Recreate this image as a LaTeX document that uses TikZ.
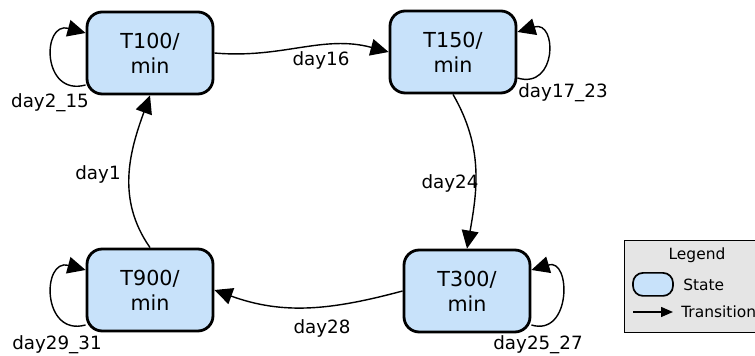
\documentclass[tikz,border=0pt]{standalone}
\usepackage{fontspec}
\setmainfont{DejaVu Sans}
\usetikzlibrary{arrows.meta}
\definecolor{statefill}{RGB}{200,226,250}
\definecolor{legendfill}{RGB}{229,229,229}
\begin{document}
\begin{tikzpicture}[
        state/.style={rectangle, rounded corners=0.38cm, minimum width=3.15cm, minimum height=2.05cm, align=center, font=\fontsize{14.7}{17.7}\selectfont, draw, line width=2pt, fill=statefill},
        lbl/.style={font=\fontsize{13}{15}\selectfont, inner sep=1pt},
        trans/.style={-{Triangle[length=0.45cm, width=0.42cm]}, line width=1pt},
        legtext/.style={font=\fontsize{11}{13}\selectfont, inner sep=0pt}
    ]
        \clip (0,0) rectangle (18.875,8.9);

        \node[state] (t100) at (3.75,7.575) {T100/\\min};
        \node[state] (t150) at (11.325,7.6) {T150/\\min};
        \node[state] (t300) at (11.675,1.625) {T300/\\min};
        \node[state] (t900) at (3.75,1.65) {T900/\\min};

        \node[lbl] (l16) at (8.025,7.4) {day16};
        \node[lbl] (l24) at (11.25,4.325) {day24};
        \node[lbl] (l28) at (8.05,0.7) {day28};
        \node[lbl] (l1) at (2.45,4.55) {day1};
        \node[lbl] (l215) at (1.25,6.325) {day2\_15};
        \node[lbl] (l1723) at (14.075,6.575) {day17\_23};
        \node[lbl] (l2931) at (1.425,0.275) {day29\_31};
        \node[lbl] (l2527) at (13.45,0.275) {day25\_27};

        \draw[trans] (t100.east) to[out=-5, in=165] (t150.west);
        \draw[trans] (t150.south) to[out=-60, in=80] (t300.north);
        \draw[trans] (t300.west) to[out=195, in=-20] (t900.east);
        \draw[trans] (t900.north) to[out=125, in=-110] (t100.south);

        % self loops
        \draw[trans] ([yshift=-0.8cm]t100.west) .. controls +(-1.1,-0.3) and +(-1.1,0.3) .. ([yshift=0.5cm]t100.west);
        \draw[trans] ([yshift=-0.65cm]t150.east) .. controls +(1.0,-0.3) and +(1.0,0.3) .. ([yshift=0.5cm]t150.east);
        \draw[trans] ([yshift=-0.875cm]t900.west) .. controls +(-1.1,-0.3) and +(-1.1,0.3) .. ([yshift=0.5cm]t900.west);
        \draw[trans] ([yshift=-0.85cm]t300.east) .. controls +(1.0,-0.3) and +(1.0,0.3) .. ([yshift=0.525cm]t300.east);

        % legend
        \node[draw, line width=1pt, fill=legendfill, minimum width=4cm, minimum height=2.3cm, anchor=north west] (legend) at (15.6,2.9) {};
        \node[legtext] (legtitle) at (17.425,2.525) {Legend};
        \node[draw, line width=1.2pt, fill=statefill, rounded corners=0.25cm, minimum width=1cm, minimum height=0.575cm] (legstate) at (16.325,1.79) {};
        \node[legtext, anchor=west] (legstatetxt) at (17.075,1.79) {State};
        \coordinate (legfrom) at (15.825,1.1);
        \coordinate (legto) at (16.825,1.1);
        \draw[-{Triangle[length=0.3cm, width=0.25cm]}, line width=1pt] (legfrom) -- (legto);
        \node[legtext, anchor=west] (legtranstxt) at (17.025,1.1) {Transition};
    \end{tikzpicture}
\end{document}
